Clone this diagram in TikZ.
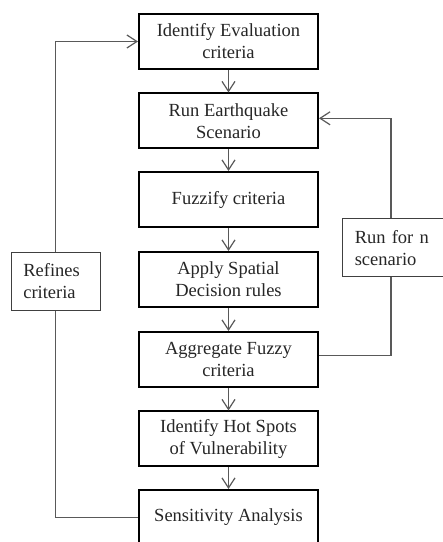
\documentclass[tikz,border=0pt]{standalone}
\usepackage{fontspec}
\setmainfont{Liberation Serif}
\usetikzlibrary{arrows.meta}
\begin{document}
\begin{tikzpicture}[x=1pt,y=1pt,
  txt/.style={font=\fontsize{18.5}{22}\selectfont, text=black!85},
  mainbox/.style={txt, draw=black, line width=2pt, minimum width=179pt, minimum height=55pt, inner sep=0pt, align=center},
  sidebox/.style={txt, draw=black!75, line width=1pt, align=left, inner ysep=0pt, minimum height=58pt},
  conn/.style={draw=black!65, line width=1.2pt},
  arr/.style={conn, -{Straight Barb[length=10pt,width=13pt]}}
]
\clip (0,0) rectangle (443,542);
\fill[white] (0,0) rectangle (443,542);
\node[mainbox] (b1) at (228.5,500.5) {Identify Evaluation\\criteria};
\node[mainbox] (b2) at (228.5,421) {Run Earthquake\\Scenario};
\node[mainbox] (b3) at (228.5,342.5) {Fuzzify criteria};
\node[mainbox] (b4) at (228.5,262.5) {Apply Spatial\\Decision rules};
\node[mainbox] (b5) at (228.5,182.5) {Aggregate Fuzzy\\criteria};
\node[mainbox] (b6) at (228.5,103) {Identify Hot Spots\\of Vulnerability};
\node[mainbox] (b7) at (228.5,24.5) {Sensitivity Analysis};
\node[sidebox, text width=66pt, inner xsep=11.5pt] (rc) at (56.3,260.7) {Refines\\criteria};
\node[sidebox, text width=79pt, inner xsep=12.5pt] (rn) at (394.3,294.3) {Run for n\\scenario};
\coordinate (rx) at (391,0);
\coordinate (lx) at (55.7,0);
\draw[arr] (b1) -- (b2);
\draw[arr] (b2) -- (b3);
\draw[arr] (b3) -- (b4);
\draw[arr] (b4) -- (b5);
\draw[arr] (b5) -- (b6);
\draw[arr] (b6) -- (b7);
\draw[conn] (b7.west) -| (lx |- rc.south);
\draw[arr] (lx |- rc.north) |- (b1.west);
\draw[conn] ([yshift=3.8pt]b5.east) -| (rx |- rn.south);
\draw[arr] (rx |- rn.north) |- ([yshift=2.7pt]b2.east);
\end{tikzpicture}
\end{document}
